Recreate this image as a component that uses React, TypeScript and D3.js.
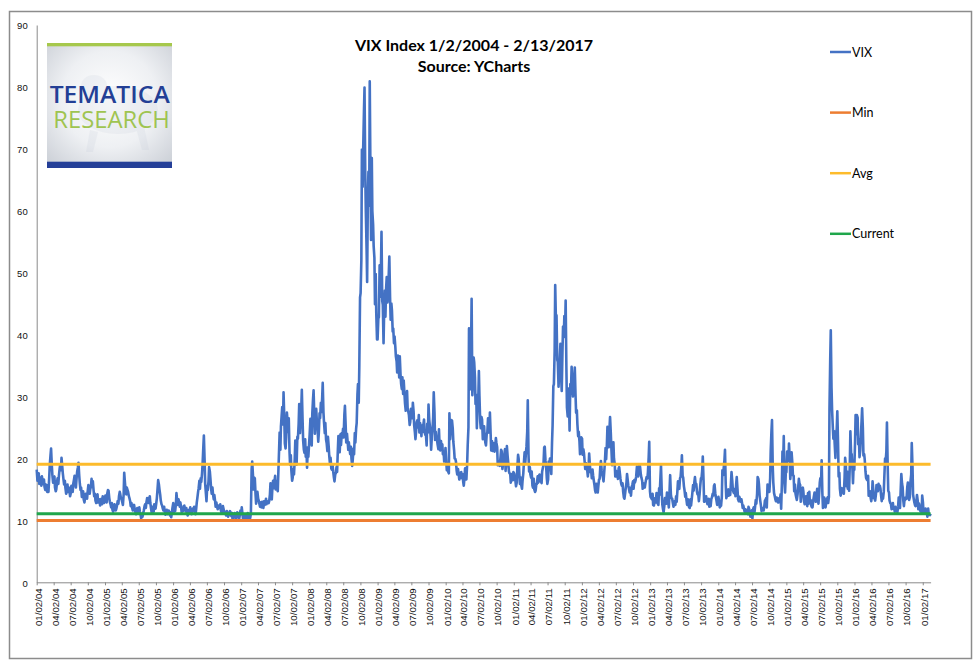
import { useEffect, useRef } from "react";
import * as d3 from "d3";

// VIX closes, one array per year.
// vixFriYYYY: Friday closes (first Friday of the year onward, weekly)
// vixTueYYYY: the Tuesday close that follows each of those Fridays
const vixFri2004 = [18.2, 16.8, 15.9, 16.9, 17.1, 15.9, 15.4, 15.8, 14.6, 14.6, 18.9, 21.6, 17.3, 16.5, 15.3, 15.0, 16.8, 17.2, 19.0, 20.1, 17.6, 15.8, 15.2, 14.9, 14.6, 14.9, 14.3, 14.8, 15.9, 17.2, 15.3, 17.9, 19.3, 16.0, 15.3, 14.1, 13.4, 13.6, 14.1, 14.6, 15.1, 15.0, 16.7, 16.3, 13.9, 13.2, 13.5, 12.9, 13.4, 12.8, 12.6, 13.7, 13.3];
const vixTue2004 = [16.4, 17.6, 16.8, 15.6, 16.3, 16.6, 14.9, 15.1, 15.7, 16.9, 20.5, 18.9, 16.1, 17.1, 14.7, 16.2, 15.9, 18.4, 18.1, 18.7, 16.5, 16.4, 14.3, 15.8, 15.3, 13.9, 15.6, 14.6, 16.6, 16.1, 16.9, 18.6, 17.2, 14.9, 13.8, 14.7, 12.9, 14.3, 13.5, 15.7, 14.3, 15.6, 15.4, 14.8, 14.3, 12.8, 14.2, 13.3, 12.4, 13.5, 13.9, 12.8, 14.0];
const vixFri2005 = [13.5, 14.3, 14.8, 13.0, 12.1, 11.7, 12.0, 12.1, 11.9, 13.1, 13.9, 14.2, 13.4, 12.5, 17.7, 15.0, 15.3, 14.6, 13.6, 12.3, 12.1, 12.0, 11.9, 11.0, 12.0, 11.6, 11.4, 10.3, 10.6, 11.6, 12.6, 12.9, 13.5, 13.4, 12.8, 11.3, 11.9, 12.6, 11.9, 13.6, 16.5, 15.0, 13.2, 12.4, 11.6, 11.5, 11.1, 11.0, 11.6, 10.8, 10.5, 12.1];
const vixTue2005 = [12.9, 14.9, 13.6, 12.6, 12.8, 11.4, 12.6, 11.6, 12.5, 12.7, 14.6, 13.5, 12.9, 14.2, 16.1, 14.2, 14.9, 13.9, 13.1, 12.8, 11.6, 12.5, 11.3, 11.6, 11.4, 12.1, 10.9, 11.0, 11.2, 12.3, 12.0, 13.6, 12.8, 13.9, 11.9, 12.2, 11.4, 12.1, 12.8, 15.2, 15.8, 14.1, 12.6, 11.9, 12.2, 10.9, 11.7, 11.3, 11.2, 11.3, 11.4, 12.8];
const vixFri2006 = [11.1, 11.5, 14.4, 12.5, 13.0, 12.9, 11.3, 11.5, 12.4, 11.5, 11.2, 11.0, 11.4, 11.6, 11.4, 11.5, 11.6, 11.6, 13.6, 15.2, 15.1, 16.2, 19.0, 23.7, 15.9, 13.1, 14.9, 18.6, 16.8, 14.3, 14.2, 14.1, 12.2, 12.3, 12.4, 12.0, 11.6, 11.8, 11.9, 11.4, 10.8, 11.1, 10.8, 11.5, 10.7, 10.0, 10.6, 10.9, 10.5, 11.2, 10.2, 11.6];
const vixTue2006 = [12.0, 12.6, 13.2, 13.4, 12.2, 12.1, 12.0, 12.3, 11.8, 12.0, 10.8, 11.7, 12.1, 11.0, 11.9, 12.2, 11.0, 12.9, 14.6, 16.4, 16.8, 17.5, 21.8, 19.6, 14.3, 15.6, 16.4, 17.9, 15.1, 15.3, 13.4, 13.2, 12.9, 11.8, 12.1, 12.6, 11.2, 12.3, 11.3, 11.2, 11.5, 10.6, 11.3, 11.0, 11.2, 10.4, 11.2, 10.3, 11.3, 10.6, 10.9, 11.0];
const vixFri2007 = [12.1, 10.2, 10.4, 9.97, 10.3, 10.7, 10.0, 11.2, 19.5, 15.0, 16.8, 12.7, 14.6, 13.2, 12.2, 12.1, 12.5, 13.1, 12.7, 12.6, 13.0, 13.1, 16.0, 13.4, 16.4, 16.2, 15.0, 15.2, 17.6, 24.2, 25.2, 28.3, 30.7, 22.4, 23.4, 26.2, 26.5, 19.0, 18.0, 16.9, 17.4, 22.9, 19.0, 23.2, 28.8, 26.0, 31.1, 22.9, 20.9, 20.3, 18.5, 20.3];
const vixTue2007 = [11.0, 10.9, 10.6, 10.8, 11.2, 10.1, 10.5, 18.3, 17.4, 16.9, 14.2, 13.9, 13.5, 12.6, 12.9, 13.0, 12.0, 12.5, 13.5, 13.1, 12.8, 14.2, 14.8, 15.7, 15.2, 17.2, 16.4, 14.7, 21.3, 21.4, 27.0, 25.5, 26.6, 21.6, 27.4, 24.3, 21.1, 20.5, 16.4, 18.3, 19.9, 21.6, 23.5, 25.6, 24.1, 28.2, 26.3, 21.4, 23.1, 21.2, 21.8, 22.4];
const vixFri2008 = [23.9, 23.7, 27.2, 31.0, 24.0, 28.0, 25.0, 24.1, 26.5, 27.5, 32.2, 25.8, 25.7, 22.5, 23.5, 20.4, 20.1, 18.2, 17.9, 16.3, 17.6, 17.8, 23.6, 21.0, 22.2, 23.4, 23.4, 28.5, 22.6, 22.9, 22.6, 20.7, 20.0, 19.8, 20.7, 22.6, 25.7, 32.0, 34.7, 46.7, 69.9, 70.3, 79.9, 59.9, 48.5, 66.3, 80.9, 55.3, 59.9, 54.3, 44.9, 43.4];
const vixTue2008 = [26.4, 22.1, 29.6, 26.8, 27.1, 25.8, 22.7, 27.3, 29.0, 29.8, 27.4, 24.1, 23.0, 21.2, 21.9, 19.1, 18.4, 18.9, 16.9, 17.4, 18.6, 21.3, 22.8, 23.9, 24.1, 24.8, 27.1, 25.3, 24.0, 21.4, 21.5, 21.9, 18.8, 21.6, 24.1, 24.8, 30.3, 29.0, 46.0, 52.0, 63.9, 76.1, 66.0, 54.0, 62.5, 60.8, 65.0, 68.5, 57.8, 52.4, 49.8, 39.2];
const vixFri2009 = [39.2, 42.8, 46.1, 56.6, 44.8, 43.4, 42.9, 49.3, 46.4, 52.6, 42.4, 43.9, 41.0, 39.7, 36.5, 33.9, 35.8, 36.5, 32.1, 33.1, 32.6, 28.9, 29.6, 28.2, 27.0, 25.9, 27.9, 29.0, 25.4, 23.1, 25.9, 25.0, 24.2, 25.0, 25.3, 25.3, 24.2, 23.9, 25.6, 28.7, 25.3, 21.4, 24.6, 30.7, 23.0, 23.4, 22.2, 24.7, 21.3, 21.6, 20.7, 19.5];
const vixTue2009 = [42.6, 51.2, 50.5, 45.4, 38.6, 47.1, 47.6, 45.2, 49.9, 46.0, 45.0, 40.5, 38.6, 38.1, 35.7, 36.6, 33.1, 33.6, 31.2, 30.4, 30.5, 27.7, 30.9, 27.5, 25.4, 28.0, 26.5, 27.6, 24.2, 24.6, 26.2, 27.0, 25.7, 23.6, 24.3, 26.3, 23.8, 22.1, 24.2, 26.2, 23.7, 23.6, 26.7, 27.5, 24.3, 22.9, 21.5, 21.6, 22.8, 22.3, 21.0, 20.2];
const vixFri2010 = [21.7, 18.1, 17.9, 27.3, 24.6, 26.1, 22.7, 20.0, 19.5, 17.4, 17.6, 16.9, 17.8, 17.5, 15.6, 18.4, 16.6, 22.1, 41.0, 31.2, 45.8, 32.1, 35.5, 28.8, 24.9, 28.5, 30.1, 24.9, 26.3, 23.5, 23.5, 22.1, 24.1, 25.5, 27.4, 21.3, 21.2, 22.0, 21.7, 22.5, 18.9, 19.1, 19.9, 21.2, 19.0, 20.6, 18.0, 22.0, 19.4, 17.6, 16.1, 17.0, 17.8];
const vixTue2010 = [19.6, 18.8, 17.6, 23.1, 26.2, 24.8, 21.4, 19.9, 18.0, 18.3, 16.6, 17.7, 16.8, 16.2, 16.9, 17.3, 19.1, 25.0, 33.1, 37.6, 30.2, 36.3, 33.1, 30.3, 29.0, 34.1, 26.0, 26.7, 23.1, 25.2, 22.5, 24.0, 26.5, 24.2, 23.9, 22.8, 22.5, 21.1, 23.3, 21.8, 19.6, 18.8, 21.4, 18.3, 20.2, 21.5, 19.9, 20.4, 17.9, 17.5, 17.5, 16.5, 17.6];
const vixFri2011 = [17.1, 15.5, 18.5, 20.0, 15.9, 15.7, 16.4, 19.2, 19.1, 21.9, 29.4, 17.9, 17.4, 17.9, 15.3, 15.0, 14.8, 15.9, 16.1, 17.4, 17.1, 17.9, 18.9, 21.9, 19.0, 15.9, 19.5, 20.0, 17.5, 25.3, 32.0, 48.0, 43.1, 35.6, 33.9, 38.5, 30.9, 41.3, 43.0, 45.5, 28.2, 31.3, 24.5, 30.5, 32.8, 32.0, 34.7, 27.4, 25.5, 24.3, 20.7, 23.4];
const vixTue2011 = [16.3, 16.1, 20.6, 17.4, 16.9, 15.1, 17.6, 21.0, 20.9, 24.3, 20.6, 18.6, 16.9, 15.6, 16.7, 14.6, 15.9, 17.1, 17.2, 16.3, 16.0, 18.5, 21.8, 19.6, 16.8, 16.6, 18.9, 18.6, 22.6, 31.7, 37.3, 42.1, 35.9, 31.6, 36.2, 33.0, 37.3, 39.6, 40.8, 34.5, 26.8, 29.1, 32.0, 34.8, 30.0, 32.7, 30.2, 27.8, 23.6, 22.8, 22.0, 23.2];
const vixFri2012 = [20.6, 20.9, 18.3, 18.5, 17.1, 20.8, 17.8, 16.8, 17.3, 15.8, 14.5, 15.0, 15.5, 16.7, 19.6, 17.4, 16.3, 19.2, 19.9, 25.1, 21.8, 26.7, 21.7, 21.1, 20.0, 17.1, 17.1, 16.7, 18.6, 16.7, 15.6, 14.7, 13.5, 15.2, 17.5, 15.6, 14.5, 14.0, 15.7, 15.1, 16.1, 17.1, 17.8, 18.6, 18.6, 16.9, 15.1, 15.9, 15.9, 17.0, 17.8, 22.7];
const vixTue2012 = [21.5, 19.4, 19.2, 18.0, 18.7, 18.9, 18.0, 18.2, 16.4, 14.8, 15.9, 14.5, 16.6, 18.8, 18.1, 16.9, 17.9, 21.7, 22.3, 22.8, 24.9, 24.1, 18.9, 22.6, 19.1, 18.0, 17.9, 18.4, 17.5, 15.9, 16.0, 13.7, 14.4, 16.1, 16.4, 15.0, 15.2, 15.4, 16.3, 16.5, 16.5, 18.7, 17.1, 19.0, 17.4, 16.4, 16.0, 15.3, 16.6, 16.8, 20.2, 14.7];
const vixFri2013 = [13.8, 13.4, 12.5, 12.9, 12.9, 13.0, 12.5, 14.2, 18.9, 12.6, 11.3, 13.6, 12.7, 13.9, 12.1, 17.3, 13.6, 12.9, 12.6, 12.5, 13.0, 16.3, 15.1, 17.0, 20.5, 16.9, 14.9, 14.4, 12.5, 12.7, 12.0, 12.4, 14.4, 14.8, 17.0, 15.9, 14.2, 13.1, 15.5, 16.7, 20.3, 13.0, 13.1, 13.2, 12.9, 12.2, 12.3, 13.7, 14.0, 15.8, 13.8, 12.5];
const vixTue2013 = [13.6, 14.3, 12.4, 13.6, 14.4, 12.7, 15.2, 16.9, 14.6, 11.8, 12.4, 13.0, 14.5, 13.0, 14.9, 14.2, 13.5, 12.2, 13.1, 13.9, 14.8, 15.4, 16.8, 18.6, 17.2, 15.5, 13.8, 13.2, 13.4, 12.1, 13.4, 13.5, 15.7, 16.2, 15.7, 14.6, 14.1, 14.3, 16.8, 18.1, 16.5, 13.4, 13.9, 12.6, 13.5, 12.8, 13.5, 14.3, 15.6, 14.4, 13.1, 13.3];
const vixFri2014 = [13.8, 12.1, 12.4, 18.1, 18.4, 21.4, 13.6, 14.7, 14.0, 14.1, 17.8, 15.0, 14.4, 13.9, 17.0, 13.4, 13.8, 13.0, 12.9, 12.4, 11.4, 11.4, 11.7, 12.2, 10.9, 11.3, 10.3, 12.1, 12.1, 12.7, 17.0, 15.8, 13.2, 11.5, 12.0, 12.1, 13.3, 12.1, 14.9, 14.6, 21.2, 26.2, 16.1, 14.0, 13.1, 13.3, 12.9, 13.3, 11.9, 21.1, 23.6, 14.5];
const vixTue2014 = [12.9, 12.3, 13.8, 17.3, 19.7, 15.8, 14.0, 15.0, 14.6, 16.1, 16.4, 14.5, 15.1, 15.9, 15.1, 13.1, 13.4, 13.4, 12.0, 11.9, 11.8, 11.6, 11.0, 11.8, 10.6, 11.6, 11.8, 11.3, 13.3, 14.3, 16.7, 13.9, 12.3, 11.8, 11.6, 13.2, 13.6, 15.8, 15.5, 16.8, 24.4, 18.6, 14.4, 13.4, 13.7, 12.9, 13.6, 14.2, 16.0, 19.4, 16.0, 17.8];
const vixFri2015 = [17.8, 20.0, 22.4, 16.7, 21.0, 17.3, 14.7, 14.3, 13.3, 15.2, 16.0, 13.0, 15.1, 14.7, 12.6, 13.9, 12.3, 12.7, 12.9, 12.4, 12.1, 13.8, 14.2, 13.8, 14.0, 14.0, 16.8, 19.7, 12.0, 13.7, 12.1, 13.4, 12.8, 28.0, 40.7, 27.8, 23.2, 22.3, 23.6, 27.6, 17.1, 15.1, 14.5, 15.1, 14.3, 20.1, 15.5, 15.1, 14.8, 24.4, 20.7, 16.0];
const vixTue2015 = [21.1, 19.6, 19.9, 18.2, 19.3, 17.2, 15.8, 13.7, 14.2, 16.7, 15.7, 14.4, 15.3, 13.0, 13.4, 13.0, 14.4, 14.6, 13.3, 12.1, 13.2, 14.5, 13.0, 15.1, 12.7, 16.1, 16.1, 14.3, 12.3, 13.2, 13.0, 13.7, 13.8, 36.0, 31.4, 25.0, 24.4, 20.1, 24.8, 22.5, 17.7, 14.0, 15.2, 14.6, 16.9, 18.8, 17.9, 16.8, 19.0, 20.8, 18.3, 19.2];
const vixFri2016 = [18.2, 27.0, 27.0, 22.3, 20.2, 23.4, 28.1, 20.5, 19.8, 16.9, 16.5, 14.0, 14.7, 13.1, 16.3, 13.6, 13.2, 15.7, 14.7, 15.0, 15.2, 13.1, 13.5, 17.0, 19.4, 25.8, 14.8, 13.2, 12.7, 12.0, 11.9, 11.4, 11.6, 11.3, 13.7, 12.0, 17.5, 15.4, 12.3, 13.3, 13.5, 16.1, 13.3, 16.2, 22.5, 14.2, 12.9, 12.3, 14.1, 11.8, 12.2, 11.4, 14.0];
const vixTue2016 = [22.5, 23.9, 26.6, 23.1, 21.3, 26.0, 24.9, 20.7, 17.9, 16.6, 17.2, 14.2, 13.6, 14.1, 14.9, 13.5, 14.2, 15.2, 15.9, 15.6, 13.9, 14.2, 14.6, 20.0, 21.2, 18.8, 14.5, 12.8, 11.8, 12.8, 12.0, 12.2, 11.8, 12.3, 12.9, 15.2, 15.9, 13.1, 13.6, 13.7, 15.4, 14.2, 13.8, 17.4, 18.7, 13.4, 12.4, 13.1, 13.2, 12.7, 11.5, 11.4, 12.9];
const vixFri2017 = [11.3, 11.2, 11.5, 10.6, 11.0, 10.85];
const vixTue2017 = [11.8, 11.9, 11.1, 11.9, 10.9];
const lastClose = { date: "2017-02-13", value: 11.07 };

const years = [2004, 2005, 2006, 2007, 2008, 2009, 2010, 2011, 2012, 2013, 2014, 2015, 2016, 2017];
const fridayByYear = [vixFri2004, vixFri2005, vixFri2006, vixFri2007, vixFri2008, vixFri2009, vixFri2010, vixFri2011, vixFri2012, vixFri2013, vixFri2014, vixFri2015, vixFri2016, vixFri2017];
const tuesdayByYear = [vixTue2004, vixTue2005, vixTue2006, vixTue2007, vixTue2008, vixTue2009, vixTue2010, vixTue2011, vixTue2012, vixTue2013, vixTue2014, vixTue2015, vixTue2016, vixTue2017];

// flat reference series
const minVix = 9.97;
const avgVix = 19.08;
const currentVix = 11.07;

const yTicks = [0, 10, 20, 30, 40, 50, 60, 70, 80, 90];
const tickMonths = [0, 3, 6, 9];
const legendNames = ["VIX", "Min", "Avg", "Current"];
const legendColors = ["#4472c4", "#ed7d31", "#fdbb2b", "#1fa64b"];
const titleLines = ["VIX Index 1/2/2004 - 2/13/2017", "Source: YCharts"];

export default function App() {
  const svgRef = useRef<SVGSVGElement>(null);

  useEffect(() => {
    const svg = d3.select(svgRef.current);
    svg.selectAll("*").remove();

    const start = new Date(Date.UTC(2004, 0, 2));
    const end = new Date(lastClose.date + "T00:00:00Z");

    // dated points: Friday closes plus the following Tuesday
    const points: { date: Date; value: number }[] = [];
    years.forEach((yr, i) => {
      const firstFri = d3.utcFriday.ceil(new Date(Date.UTC(yr, 0, 1)));
      fridayByYear[i].forEach((v, k) => points.push({ date: d3.utcDay.offset(firstFri, 7 * k), value: v }));
      tuesdayByYear[i].forEach((v, k) => points.push({ date: d3.utcDay.offset(firstFri, 7 * k + 4), value: v }));
    });
    points.push({ date: end, value: lastClose.value });
    points.sort((a, b) => +a.date - +b.date);

    const x = d3.scaleUtc().domain([start, end]).range([36.7, 930.6]);
    const y = d3.scaleLinear().domain([0, 90]).range([582.3, 25]);

    // outer chart border
    svg
      .append("rect")
      .attr("x", 9.5)
      .attr("y", 11.5)
      .attr("width", 962)
      .attr("height", 647)
      .attr("fill", "#fff")
      .attr("stroke", "#8c8c8c")
      .attr("stroke-width", 1.5);

    // logo
    const defs = svg.append("defs");
    const grad = defs.append("radialGradient").attr("id", "logoBg").attr("cx", "50%").attr("cy", "45%").attr("r", "70%");
    grad.append("stop").attr("offset", "0%").attr("stop-color", "#ffffff");
    grad.append("stop").attr("offset", "55%").attr("stop-color", "#eef0f3");
    grad.append("stop").attr("offset", "100%").attr("stop-color", "#cdd1d8");
    const logo = svg.append("g");
    logo.append("rect").attr("x", 47).attr("y", 43).attr("width", 125).attr("height", 125).attr("fill", "url(#logoBg)");
    // faint bull behind the lettering
    const bull = logo.append("g").attr("fill", "#b6bfd0").attr("opacity", 0.14);
    bull.append("ellipse").attr("cx", 118).attr("cy", 110).attr("rx", 40).attr("ry", 24);
    bull.append("ellipse").attr("cx", 94).attr("cy", 86).attr("rx", 13).attr("ry", 11);
    bull.append("path").attr("d", "M90,130 L86,152 L93,152 L98,132 Z M136,128 L142,150 L149,150 L144,126 Z");
    logo.append("rect").attr("x", 47).attr("y", 43).attr("width", 125).attr("height", 3.3).attr("fill", "#a6c84c");
    logo.append("rect").attr("x", 47).attr("y", 161.7).attr("width", 125).attr("height", 6.3).attr("fill", "#243f98");
    logo
      .append("text")
      .attr("x", 49.7)
      .attr("y", 103.3)
      .attr("textLength", 120)
      .attr("lengthAdjust", "spacingAndGlyphs")
      .attr("font-family", "'Open Sans', sans-serif")
      .attr("font-weight", 600)
      .attr("font-size", 24)
      .attr("fill", "#233f95")
      .text("TEMATICA");
    logo
      .append("text")
      .attr("x", 53.3)
      .attr("y", 127.7)
      .attr("textLength", 116.5)
      .attr("lengthAdjust", "spacingAndGlyphs")
      .attr("font-family", "'Open Sans', sans-serif")
      .attr("font-weight", 400)
      .attr("font-size", 24)
      .attr("fill", "#9fc450")
      .text("RESEARCH");

    // y axis
    const gy = svg
      .append("g")
      .attr("transform", `translate(${x.range()[0]},0)`)
      .call(d3.axisLeft(y).tickValues(yTicks).tickSize(0).tickPadding(9));
    gy.select(".domain").attr("stroke", "#8a8a8a");
    gy.selectAll(".tick text").attr("fill", "#111").attr("dy", "0.4em");
    gy.attr("font-family", "'Liberation Sans', Arial, sans-serif").attr("font-size", 9.5);

    // x axis ticks every quarter on the 2nd
    const tickDates: Date[] = [];
    for (let yr = 2004; yr <= 2017; yr++) {
      for (const m of tickMonths) {
        const d = new Date(Date.UTC(yr, m, 2));
        if (d <= end) tickDates.push(d);
      }
    }
    const gx = svg
      .append("g")
      .attr("transform", `translate(0,${y(0)})`)
      .call(
        d3
          .axisBottom(x)
          .tickValues(tickDates)
          .tickFormat((d) => d3.utcFormat("%m/%d/%y")(d as Date))
          .tickSizeInner(3)
          .tickSizeOuter(0)
      );
    gx.select(".domain").attr("stroke", "#8a8a8a");
    gx.selectAll(".tick line").attr("stroke", "#8a8a8a");
    gx.selectAll(".tick text")
      .attr("transform", "rotate(-90)")
      .attr("text-anchor", "end")
      .attr("x", -6)
      .attr("y", 0)
      .attr("dy", "0.45em")
      .attr("fill", "#111");
    gx.attr("font-family", "'Liberation Sans', Arial, sans-serif").attr("font-size", 9.7);

    // series
    const line = d3
      .line<{ date: Date; value: number }>()
      .x((d) => x(d.date))
      .y((d) => y(d.value));

    svg
      .append("path")
      .datum(points)
      .attr("d", line)
      .attr("fill", "none")
      .attr("stroke", legendColors[0])
      .attr("stroke-width", 2.6)
      .attr("stroke-linejoin", "round");

    [minVix, avgVix, currentVix].forEach((level, i) => {
      svg
        .append("path")
        .datum([
          { date: start, value: level },
          { date: end, value: level },
        ])
        .attr("d", line)
        .attr("fill", "none")
        .attr("stroke", legendColors[i + 1])
        .attr("stroke-width", 3);
    });

    // title
    svg
      .append("g")
      .selectAll("text")
      .data(titleLines)
      .join("text")
      .attr("x", 474)
      .attr("y", (d, i) => 51 + i * 21)
      .attr("text-anchor", "middle")
      .attr("font-family", "Lato, sans-serif")
      .attr("font-weight", 700)
      .attr("font-size", 16)
      .attr("fill", "#000")
      .text((d) => d);

    // legend
    const leg = svg
      .append("g")
      .selectAll("g")
      .data(legendNames)
      .join("g")
      .attr("transform", (d, i) => `translate(830,${52 + i * 60.6})`);
    leg
      .append("line")
      .attr("x1", 0)
      .attr("x2", 21)
      .attr("stroke", (d, i) => legendColors[i])
      .attr("stroke-width", 2.5);
    leg
      .append("text")
      .attr("x", 22)
      .attr("y", 4.6)
      .attr("font-family", "Lato, sans-serif")
      .attr("font-size", 12.5)
      .attr("fill", "#000")
      .text((d) => d);
  }, []);

  return (
    <svg
      ref={svgRef}
      width={978}
      height={667}
      style={{ position: "absolute", left: 0, top: 0, background: "#fff" }}
    />
  );
}
